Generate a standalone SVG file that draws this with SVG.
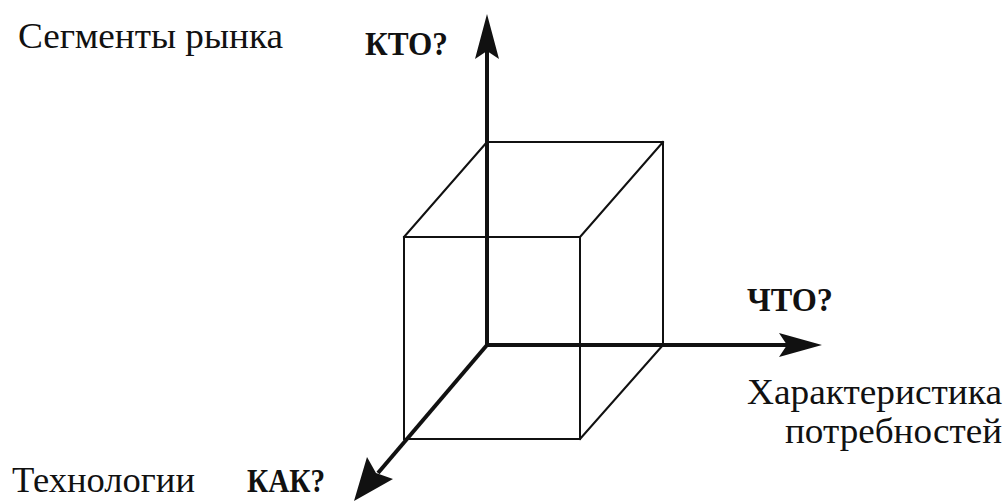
<svg xmlns="http://www.w3.org/2000/svg" width="1007" height="502" viewBox="0 0 1007 502">
<style>
.t{font-family:"Liberation Serif","DejaVu Serif","Noto Serif",serif;fill:#111;font-size:36px}
.b{font-weight:bold;font-size:34px}
.edge{stroke:#111;stroke-width:2;fill:none;stroke-linecap:square}
.axis{stroke:#111;stroke-width:4;fill:none}
.head{fill:#111}
</style>
<rect width="1007" height="502" fill="#fff"/>
<g id="cube">
<path class="edge" d="M487 142 H663 V345 M404 237 H580 V439 H404 Z M487 142 L404 237 M663 142 L580 237 M663 345 L580 439"/>
</g>
<g id="connectors">
<line class="axis" x1="487" y1="347" x2="487" y2="50"/>
<polygon class="head" points="487,14 499,59 487,51 475,59"/>
<line class="axis" x1="485" y1="345" x2="790" y2="345"/>
<polygon class="head" points="822,345 779,357 787,345 779,333"/>
<line class="axis" x1="487" y1="345" x2="378" y2="473"/>
<polygon class="head" points="354,501 367,457 376,473 393,479"/>
</g>
<g id="label-segments"><text class="t" x="18" y="48" textLength="265" lengthAdjust="spacingAndGlyphs">Сегменты рынка</text></g>
<g id="label-kto"><text class="t b" x="365" y="55" textLength="83" lengthAdjust="spacingAndGlyphs">КТО?</text></g>
<g id="label-chto"><text class="t b" x="747" y="311" textLength="86" lengthAdjust="spacingAndGlyphs">ЧТО?</text></g>
<g id="label-needs">
<text class="t" x="747" y="404" textLength="255" lengthAdjust="spacingAndGlyphs">Характеристика</text>
<text class="t" x="785" y="443" textLength="217" lengthAdjust="spacingAndGlyphs">потребностей</text>
</g>
<g id="label-tech"><text class="t" x="12" y="492" textLength="183" lengthAdjust="spacingAndGlyphs">Технологии</text></g>
<g id="label-kak"><text class="t b" x="247" y="492" textLength="78" lengthAdjust="spacingAndGlyphs">КАК?</text></g>
</svg>
